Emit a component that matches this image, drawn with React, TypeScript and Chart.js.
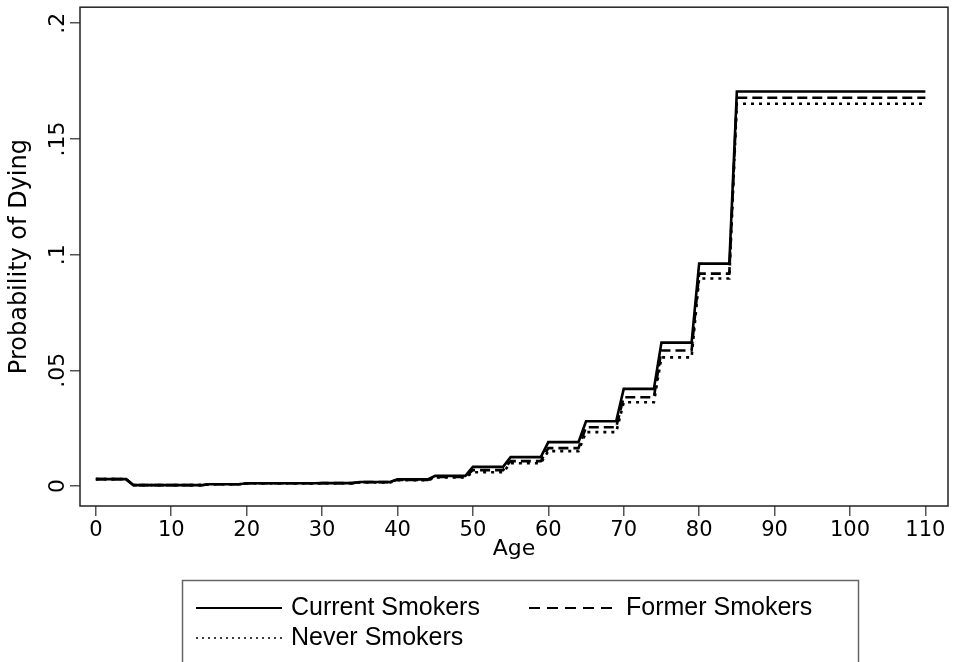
import React, { useEffect, useRef } from "react";
import { Chart, registerables } from "chart.js";

Chart.register(...registerables);

// ---- data ----
const ageGroupStarts = [0, 5, 10, 15, 20, 25, 30, 35, 40, 45, 50, 55, 60, 65, 70, 75, 80, 85];
const lastAge = 110;
const currentSmokers = [0.003, 0.0004, 0.0004, 0.0008, 0.0012, 0.0012, 0.0013, 0.0018, 0.0029, 0.0044, 0.0083, 0.0125, 0.019, 0.028, 0.042, 0.062, 0.0961, 0.1705];
const formerSmokers = [0.003, 0.0004, 0.0004, 0.0008, 0.0012, 0.0012, 0.0013, 0.0017, 0.0027, 0.004, 0.0069, 0.0108, 0.0164, 0.0254, 0.0384, 0.0586, 0.0918, 0.1678];
const neverSmokers = [0.003, 0.0004, 0.0004, 0.0008, 0.0011, 0.0011, 0.0012, 0.0016, 0.0025, 0.0037, 0.006, 0.0099, 0.0151, 0.0233, 0.0362, 0.0556, 0.0897, 0.1652];
const seriesNames = ["Current Smokers", "Former Smokers", "Never Smokers"];
const xTicks = [0, 10, 20, 30, 40, 50, 60, 70, 80, 90, 100, 110];
const yTicks = [0, 0.05, 0.1, 0.15, 0.2];
const yTickLabels = ["0", ".05", ".1", ".15", ".2"];

const AXIS_FONT = "'DejaVu Sans', sans-serif";
const LEGEND_FONT = "'Liberation Sans', Arial, sans-serif";

function toSteps(values: number[]) {
  const pts: { x: number; y: number }[] = [];
  values.forEach((v, i) => {
    const start = ageGroupStarts[i];
    const end = i < ageGroupStarts.length - 1 ? ageGroupStarts[i + 1] - 1 : lastAge;
    pts.push({ x: start, y: v });
    pts.push({ x: end, y: v });
  });
  return pts;
}

const dashStyles: number[][] = [[], [10, 5], [3, 5]];
const legendDash: number[][] = [[], [11, 7], [2, 4]];

const framePlugin = {
  id: "frame",
  afterDatasetsDraw(chart: any) {
    const { ctx, chartArea } = chart;
    ctx.save();
    ctx.strokeStyle = "#222";
    ctx.lineWidth = 1.5;
    ctx.strokeRect(chartArea.left, chartArea.top, chartArea.right - chartArea.left, chartArea.bottom - chartArea.top);
    ctx.restore();
  },
};

const legendPlugin = {
  id: "boxLegend",
  afterDraw(chart: any) {
    const { ctx } = chart;
    ctx.save();
    ctx.strokeStyle = "#666";
    ctx.lineWidth = 1.5;
    ctx.strokeRect(182.5, 580.5, 676, 100);
    const items = [
      { x: 196, y: 608, tx: 291 },
      { x: 529, y: 608, tx: 626 },
      { x: 196, y: 638, tx: 291 },
    ];
    ctx.font = `25px ${LEGEND_FONT}`;
    ctx.fillStyle = "#000";
    ctx.textBaseline = "middle";
    ctx.textAlign = "left";
    items.forEach((it, i) => {
      ctx.beginPath();
      ctx.setLineDash(legendDash[i]);
      ctx.strokeStyle = "#000";
      ctx.lineWidth = i === 2 ? 1.5 : 2;
      ctx.moveTo(it.x, it.y);
      ctx.lineTo(it.x + 86, it.y);
      ctx.stroke();
      ctx.setLineDash([]);
      ctx.fillText(seriesNames[i], it.tx, it.y);
    });
    ctx.restore();
  },
};

export default function App() {
  const ref = useRef<HTMLCanvasElement | null>(null);
  useEffect(() => {
    document.body.style.margin = "0";
    const canvas = ref.current;
    if (!canvas) return;
    const series = [currentSmokers, formerSmokers, neverSmokers];
    const chart = new Chart(canvas, {
      type: "line",
      data: {
        datasets: series.map((s, i) => ({
          label: seriesNames[i],
          data: toSteps(s),
          borderColor: "#000",
          borderWidth: 2.6,
          borderDash: dashStyles[i],
          pointRadius: 0,
          tension: 0,
          fill: false,
        })),
      },
      options: {
        animation: false,
        responsive: false,
        maintainAspectRatio: false,
        layout: { padding: { top: 6, right: 6, bottom: 100, left: 0 } },
        plugins: { legend: { display: false }, tooltip: { enabled: false } },
        scales: {
          x: {
            type: "linear",
            min: -2.1,
            max: 113,
            afterBuildTicks: (s: any) => {
              s.ticks = xTicks.map((v) => ({ value: v }));
            },
            afterFit: (s: any) => {
              s.height = 56;
            },
            grid: { display: true, drawOnChartArea: false, drawTicks: true, tickLength: 10, color: "#555", lineWidth: 1.5 },
            border: { display: false },
            ticks: {
              autoSkip: false,
              maxRotation: 0,
              color: "#000",
              padding: 2,
              font: { family: AXIS_FONT, size: 21 },
              callback: (v: any) => String(v),
            },
            title: {
              display: true,
              text: "Age",
              color: "#000",
              font: { family: AXIS_FONT, size: 22 },
              padding: { top: 0, bottom: 0 },
            },
          },
          y: {
            type: "linear",
            min: -0.0086,
            max: 0.2069,
            afterBuildTicks: (s: any) => {
              s.ticks = yTicks.map((v) => ({ value: v }));
            },
            afterFit: (s: any) => {
              s.width = 80;
            },
            grid: { display: true, drawOnChartArea: false, drawTicks: true, tickLength: 10, color: "#555", lineWidth: 1.5 },
            border: { display: false },
            ticks: {
              autoSkip: false,
              minRotation: 90,
              maxRotation: 90,
              crossAlign: "center",
              padding: -6,
              color: "#000",
              font: { family: AXIS_FONT, size: 22 },
              callback: (v: any) => {
                const idx = yTicks.findIndex((t) => Math.abs(t - Number(v)) < 1e-9);
                return idx >= 0 ? yTickLabels[idx] : "";
              },
            },
            title: {
              display: true,
              text: "Probability of Dying",
              color: "#000",
              font: { family: AXIS_FONT, size: 24 },
              padding: { top: 5, bottom: 0 },
            },
          },
        },
      },
      plugins: [framePlugin, legendPlugin],
    } as any);
    return () => chart.destroy();
  }, []);
  return <canvas ref={ref} width={954} height={662} style={{ display: "block", width: 954, height: 662 }} />;
}
